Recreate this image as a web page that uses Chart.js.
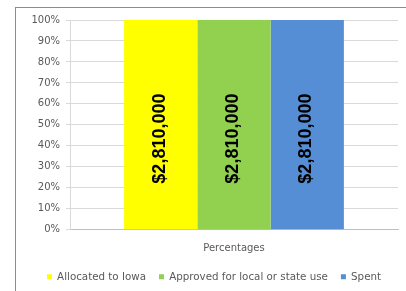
<!DOCTYPE html>
<html>
<head>
<meta charset="utf-8">
<script src="https://cdn.jsdelivr.net/npm/chart.js@4/dist/chart.umd.min.js"></script>
<style>
    html, body { margin: 0; padding: 0; background: #fff; }
    #frame {
        position: absolute;
        left: 15px;
        top: 7px;
        width: 391px;
        height: 284px;
        border-left: 1px solid #8c8c8c;
        border-top: 1px solid #8c8c8c;
    }
    #chart-box { position: relative; width: 391px; height: 284px; }
</style>
</head>
<body>
<div id="frame">
    <div id="chart-box"><canvas id="chart"></canvas></div>
</div>
<script>
const categories = ['Percentages'];
const seriesNames = ['Allocated to Iowa', 'Approved for local or state use', 'Spent'];
const seriesPercent = [[100], [100], [100]];
const seriesDollars = ['$2,810,000', '$2,810,000', '$2,810,000'];
const seriesColors = ['#ffff00', '#92d050', '#558ed5'];
const yTicks = [0, 10, 20, 30, 40, 50, 60, 70, 80, 90, 100];

const tickFont = { family: 'DejaVu Sans', size: 10 };
const legendFont = { family: 'DejaVu Sans', size: 10.3 };
const tickColor = '#595959';

// Rotated dollar labels in the middle of each bar
const barLabels = {
    id: 'barLabels',
    afterDatasetsDraw(chart) {
        const ctx = chart.ctx;
        ctx.save();
        ctx.font = 'bold 18px "Liberation Sans", Arial, sans-serif';
        ctx.fillStyle = '#000';
        ctx.textAlign = 'center';
        ctx.textBaseline = 'middle';
        chart.data.datasets.forEach((ds, i) => {
            chart.getDatasetMeta(i).data.forEach(bar => {
                const mid = (bar.y + bar.base) / 2 + 14;
                ctx.save();
                ctx.translate(bar.x - 1, mid);
                ctx.rotate(-Math.PI / 2);
                ctx.fillText(seriesDollars[i], 0, 0);
                ctx.restore();
            });
        });
        ctx.restore();
    }
};

new Chart(document.getElementById('chart'), {
    type: 'bar',
    data: {
        labels: categories,
        datasets: seriesNames.map((name, i) => ({
            label: name,
            data: seriesPercent[i],
            backgroundColor: seriesColors[i],
            borderWidth: 0,
            barPercentage: 1,
            categoryPercentage: 0.67
        }))
    },
    options: {
        responsive: true,
        maintainAspectRatio: false,
        animation: false,
        layout: { padding: { top: 8, right: 9, left: 14, bottom: 0 } },
        plugins: {
            tooltip: { enabled: false },
            legend: {
                position: 'bottom',
                labels: {
                    boxWidth: 5,
                    boxHeight: 5,
                    padding: 13,
                    color: tickColor,
                    font: legendFont
                }
            }
        },
        scales: {
            x: {
                grid: { display: false },
                border: { display: true, color: '#bfbfbf' },
                ticks: { color: tickColor, font: tickFont, padding: 4.5 }
            },
            y: {
                min: 0,
                max: 100,
                afterFit: axis => { axis.width = 40; },
                afterBuildTicks: axis => { axis.ticks = yTicks.map(v => ({ value: v })); },
                grid: { color: '#d9d9d9', tickLength: 4 },
                border: { display: true, color: '#d9d9d9' },
                ticks: {
                    color: tickColor,
                    font: tickFont,
                    padding: 6,
                    callback: v => v + '%'
                }
            }
        }
    },
    plugins: [barLabels]
});
</script>
</body>
</html>
